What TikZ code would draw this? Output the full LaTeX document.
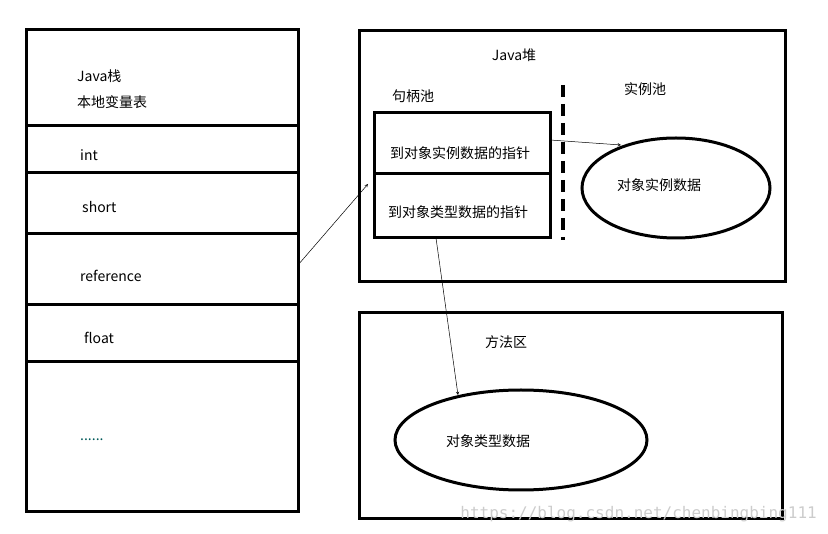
\documentclass[tikz,border=0pt]{standalone}
\usepackage{fontspec}
\setmainfont{Noto Sans CJK SC}
\newfontfamily\wmfont{DejaVu Sans Mono}
\begin{document}
\begin{tikzpicture}[x=1pt,y=-1pt,
  thick box/.style={line width=3pt},
  lbl/.style={font=\fontsize{14}{16}\selectfont, inner sep=0pt},
  thinarrow/.style={->, line width=0.5pt, >=stealth}]
\useasboundingbox (0,0) rectangle (828,534);
% stack
\draw[thick box] (26,30) rectangle (298,512);
\foreach \y in {126,173,234,305,362} \draw[thick box] (26,\y) -- (300,\y);
\node[lbl,anchor=west] (t1) at (77,76) {Java栈};
\node[lbl,anchor=west] (t2) at (77,102) {本地变量表};
\node[lbl,anchor=west] (t3) at (80,155) {int};
\node[lbl,anchor=west] (t4) at (82,207) {short};
\node[lbl,anchor=west] (ref) at (80,276) {reference};
\node[lbl,anchor=west] (t6) at (84,338) {float};
\node[lbl,anchor=west,text=teal!70!black] (t7) at (80,440) {......};
% heap
\draw[thick box] (359,31) rectangle (785,282);
\node[lbl] (heap) at (514,55) {Java堆};
\node[lbl] (hp) at (413,96) {句柄池};
\node[lbl] (ip) at (645,89) {实例池};
\draw[thick box] (374,113) rectangle (550,238);
\draw[thick box] (374,174) -- (550,174);
\node[lbl] (p1) at (460,153) {到对象实例数据的指针};
\node[lbl] (p2) at (458,212) {到对象类型数据的指针};
\draw[line width=3.5pt, dash pattern=on 12pt off 7pt] (563,85) -- (563,240);
\draw[thick box] (676,188) ellipse [x radius=94, y radius=50];
\node[lbl] (inst) at (659,185) {对象实例数据};
% method area
\draw[thick box] (359,313) rectangle (782,519);
\node[lbl] (ma) at (506,342) {方法区};
\draw[thick box] (521,440) ellipse [x radius=126, y radius=50];
\node[lbl] (typ) at (488,441) {对象类型数据};
% arrows
\coordinate (a1s) at (298,265); \coordinate (a1e) at (368,184);
\coordinate (a2s) at (550,140); \coordinate (a2e) at (621,145);
\coordinate (a3s) at (436,238); \coordinate (a3e) at (458,395);
\draw[thinarrow] (a1s) -- (a1e);
\draw[thinarrow] (a2s) -- (a2e);
\draw[thinarrow] (a3s) -- (a3e);
\node[font=\wmfont\fontsize{16}{18}\selectfont, text=gray!40, anchor=east, inner sep=0pt] (wm) at (817,514) {https://blog.csdn.net/chenbingbing111};
\end{tikzpicture}
\end{document}
